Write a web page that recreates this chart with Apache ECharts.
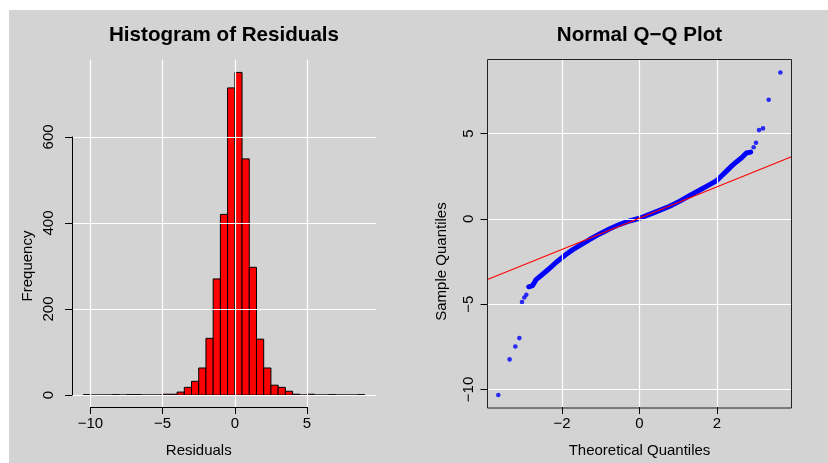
<!DOCTYPE html>
<html>
<head>
<meta charset="utf-8">
<script src="https://cdn.jsdelivr.net/npm/echarts@6/dist/echarts.min.js"></script>
<style>
  html, body { margin: 0; padding: 0; background: #ffffff; }
  #chart { width: 828px; height: 463px; }
</style>
</head>
<body>
<div id="chart"></div>
<script>
// Histogram of residuals: bin edges and counts per bin
const histBreaks = [-10.5, -10, -9.5, -9, -8.5, -8, -7.5, -7, -6.5, -6, -5.5, -5, -4.5, -4,
  -3.5, -3, -2.5, -2, -1.5, -1, -0.5, 0, 0.5, 1, 1.5, 2, 2.5, 3, 3.5, 4,
  4.5, 5, 5.5, 6, 6.5, 7, 7.5, 8, 8.5, 9];
const histCounts = [1, 0, 0, 0, 1, 0, 1, 1, 0, 0, 0, 2, 2,
  7, 18, 32, 63, 132, 270, 420, 714, 750, 549, 297, 130, 63, 23, 18, 9,
  2, 0, 2, 0, 0, 1, 0, 0, 0, 1];
const histXTicks = [-10, -5, 0, 5];
const histYTicks = [0, 200, 400, 600];

// Normal Q-Q plot: dense central run of points (theoretical, sample)
const qqBandTheoretical = [-2.86, -2.76, -2.67, -2.54, -2.41, -2.28, -2.15, -2.02, -1.90, -1.72,
  -1.55, -1.29, -1.03, -0.78, -0.52, -0.26, 0.00, 0.26, 0.52, 0.78,
  1.03, 1.29, 1.55, 1.81, 1.98, 2.11, 2.24, 2.37, 2.50, 2.63, 2.76, 2.87];
const qqBandSample = [-3.98, -3.91, -3.56, -3.32, -3.07, -2.81, -2.54, -2.31, -2.09, -1.80,
  -1.56, -1.21, -0.88, -0.59, -0.33, -0.12, 0.04, 0.27, 0.50, 0.74,
  1.03, 1.36, 1.68, 2.01, 2.22, 2.50, 2.79, 3.08, 3.34, 3.57, 3.87, 3.92];
// Isolated points in both tails
const qqTailTheoretical = [-3.646, -3.354, -3.207, -3.103, -3.034, -2.974, -2.922,
  2.948, 3.008, 3.086, 3.189, 3.336, 3.638];
const qqTailSample = [-10.33, -8.24, -7.48, -6.99, -4.88, -4.61, -4.45,
  4.20, 4.47, 5.21, 5.31, 6.99, 8.59];
// Reference line through the quartiles, given at both ends of the plot box
const qqLineTheoretical = [-3.925, 3.925];
const qqLineSample = [-3.55, 3.65];
const qqXTicks = [-2, 0, 2];
const qqYTicks = [-10, -5, 0, 5];

// Plot regions and their data ranges
const HIST_BOX = { left: 72, top: 59.5, width: 304, height: 348.5 };
const QQ_BOX = { left: 487.5, top: 59.5, width: 304, height: 348.5 };
const HIST_XR = [-11.28, 9.78], HIST_YR = [-30, 780];
const QQ_XR = [-3.925, 3.925], QQ_YR = [-11.09, 9.35];

const FONT = '"Liberation Sans", Arial, Helvetica, sans-serif';
const LABEL_SIZE = 15;
const GRID_COLOR = '#ffffff';

// Sub-rectangle of a box that spans [lo, hi] along one axis
function xSpan(box, range, lo, hi) {
  const s = box.width / (range[1] - range[0]);
  return { left: box.left + (lo - range[0]) * s, width: (hi - lo) * s, top: box.top, height: box.height };
}
function ySpan(box, range, lo, hi) {
  const s = box.height / (range[1] - range[0]);
  return { left: box.left, width: box.width, top: box.top + (range[1] - hi) * s, height: (hi - lo) * s };
}
const minus = v => (v < 0 ? '\u2212' + Math.abs(v) : String(v));
const last = a => a[a.length - 1];

const hidden = (gridIndex, min, max) => ({ type: 'value', gridIndex, min, max, show: false });

function tickAxis(gridIndex, ticks, opts) {
  return Object.assign({
    type: 'value', gridIndex,
    min: ticks[0], max: last(ticks), interval: ticks[1] - ticks[0],
    z: 3,
    axisLine: { show: opts.line, onZero: false, lineStyle: { color: '#000', width: 1 } },
    axisTick: { show: true, inside: false, length: 7, lineStyle: { color: '#000', width: 1 } },
    axisLabel: {
      color: '#000', fontSize: LABEL_SIZE, fontFamily: FONT, margin: opts.margin,
      rotate: opts.rotate || 0, formatter: minus, showMinLabel: true, showMaxLabel: true
    },
    splitLine: { show: true, lineStyle: { color: GRID_COLOR, width: 1.2 } },
    name: opts.name, nameLocation: 'middle', nameGap: opts.nameGap,
    nameRotate: opts.nameRotate || 0,
    nameTextStyle: { color: '#000', fontSize: LABEL_SIZE, fontFamily: FONT }
  }, opts.extra || {});
}

const histData = histCounts.map((c, i) => [histBreaks[i], histBreaks[i + 1], c]);
const qqBand = qqBandTheoretical.map((x, i) => [x, qqBandSample[i]]);
const qqTail = qqTailTheoretical.map((x, i) => [x, qqTailSample[i]]);
const qqLine = qqLineTheoretical.map((x, i) => [x, qqLineSample[i]]);

const grids = [
  Object.assign({ show: false }, HIST_BOX),
  Object.assign({ show: false }, xSpan(HIST_BOX, HIST_XR, histXTicks[0], last(histXTicks))),
  Object.assign({ show: false }, ySpan(HIST_BOX, HIST_YR, histYTicks[0], last(histYTicks))),
  Object.assign({ show: true, borderColor: '#222', borderWidth: 1, backgroundColor: 'transparent', z: 5 }, QQ_BOX),
  Object.assign({ show: false }, xSpan(QQ_BOX, QQ_XR, qqXTicks[0], last(qqXTicks))),
  Object.assign({ show: false }, ySpan(QQ_BOX, QQ_YR, qqYTicks[0], last(qqYTicks)))
];

const chart = echarts.init(document.getElementById('chart'), null, { renderer: 'canvas' });
chart.setOption({
  animation: false,
  backgroundColor: '#ffffff',
  graphic: [
    { type: 'rect', shape: { x: 9, y: 10, width: 819, height: 453 }, style: { fill: '#d3d3d3' }, z: -10 },
    { type: 'text', x: HIST_BOX.left + HIST_BOX.width / 2, y: 35,
      style: { text: 'Histogram of Residuals', textAlign: 'center', textVerticalAlign: 'middle',
        font: 'bold 20.6px ' + FONT, fill: '#000' } },
    { type: 'text', x: QQ_BOX.left + QQ_BOX.width / 2, y: 35,
      style: { text: 'Normal Q\u2212Q Plot', textAlign: 'center', textVerticalAlign: 'middle',
        font: 'bold 20.6px ' + FONT, fill: '#000' } }
  ],
  grid: grids,
  xAxis: [
    hidden(0, HIST_XR[0], HIST_XR[1]),
    tickAxis(1, histXTicks, { line: true, margin: 9, name: 'Residuals', nameGap: 36 }),
    hidden(2, 0, 1),
    hidden(3, QQ_XR[0], QQ_XR[1]),
    tickAxis(4, qqXTicks, { line: false, margin: 9, name: 'Theoretical Quantiles', nameGap: 36 }),
    hidden(5, 0, 1)
  ],
  yAxis: [
    hidden(0, HIST_YR[0], HIST_YR[1]),
    hidden(1, 0, 1),
    tickAxis(2, histYTicks, { line: true, margin: 16, rotate: 90, name: 'Frequency', nameGap: 37, nameRotate: 90 }),
    hidden(3, QQ_YR[0], QQ_YR[1]),
    hidden(4, 0, 1),
    tickAxis(5, qqYTicks, { line: false, margin: 11, rotate: 90, name: 'Sample Quantiles', nameGap: 38, nameRotate: 90 })
  ],
  series: [
    {
      type: 'custom', xAxisIndex: 0, yAxisIndex: 0, z: 2,
      data: histData,
      renderItem: function (params, api) {
        const p0 = api.coord([api.value(0), 0]);
        const p1 = api.coord([api.value(1), api.value(2)]);
        return {
          type: 'rect',
          shape: { x: p0[0], y: p1[1], width: p1[0] - p0[0], height: p0[1] - p1[1] },
          style: { fill: '#ff0000', stroke: '#000000', lineWidth: 1 }
        };
      }
    },
    {
      type: 'line', xAxisIndex: 3, yAxisIndex: 3, z: 2,
      data: qqBand, showSymbol: false, smooth: false,
      lineStyle: { color: '#0000ff', width: 5, cap: 'round', join: 'round' }
    },
    {
      type: 'scatter', xAxisIndex: 3, yAxisIndex: 3, z: 2,
      data: qqTail, symbol: 'circle', symbolSize: 4.6,
      itemStyle: { color: '#0000ff' }
    },
    {
      type: 'line', xAxisIndex: 3, yAxisIndex: 3, z: 4,
      data: qqLine, showSymbol: false,
      lineStyle: { color: '#ff0000', width: 1.1 }
    }
  ]
});
</script>
</body>
</html>
